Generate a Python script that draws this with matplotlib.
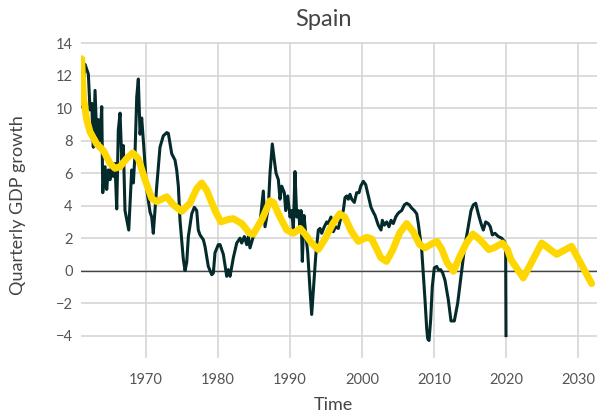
import numpy as np
import matplotlib
matplotlib.use("Agg")
import matplotlib.pyplot as plt

# quarterly GDP growth (dark line)
gdp_time = [1961.07, 1961.53, 1961.99, 1962.22, 1962.46, 1962.68, 1962.92, 1963.15, 1963.37, 1963.61,
            1963.85, 1963.99, 1964.31, 1964.54, 1964.76, 1965.0, 1965.24, 1965.46, 1965.69, 1965.93,
            1966.15, 1966.39, 1966.63, 1966.85, 1967.08, 1967.6, 1968.01, 1968.24, 1968.47, 1968.71,
            1968.93, 1969.17, 1969.4, 1969.63, 1969.86, 1970.1, 1970.56, 1970.79, 1971.01, 1971.49,
            1971.94, 1972.4, 1972.88, 1973.1, 1973.57, 1974.03, 1974.26, 1974.49, 1974.72, 1975.18,
            1975.42, 1975.65, 1975.88, 1976.35, 1976.71, 1977.04, 1977.26, 1977.5, 1977.96, 1978.19,
            1978.65, 1979.13, 1979.35, 1979.58, 1980.04, 1980.28, 1980.74, 1981.21, 1981.43, 1981.67,
            1982.13, 1982.6, 1983.06, 1983.29, 1983.65, 1983.99, 1984.21, 1984.44, 1984.9, 1985.38,
            1985.83, 1986.29, 1986.53, 1986.99, 1987.22, 1987.54, 1987.82, 1988.06, 1988.38, 1988.61,
            1988.85, 1989.21, 1989.4, 1989.68, 1990.0, 1990.24, 1990.46, 1990.69, 1990.93, 1991.15,
            1991.39, 1991.53, 1991.71, 1991.94, 1992.18, 1992.46, 1992.78, 1993.01, 1993.24, 1993.57,
            1993.93, 1994.17, 1994.4, 1994.76, 1995.1, 1995.32, 1995.69, 1996.01, 1996.35, 1996.71,
            1997.08, 1997.4, 1997.64, 1997.88, 1998.1, 1998.33, 1998.57, 1998.93, 1999.26, 1999.58,
            1999.82, 2000.18, 2000.51, 2000.88, 2001.25, 2001.57, 2001.81, 2002.26, 2002.64, 2002.82,
            2003.1, 2003.43, 2003.75, 2004.03, 2004.35, 2004.68, 2004.96, 2005.18, 2005.51, 2005.88,
            2006.21, 2006.57, 2006.9, 2007.26, 2007.6, 2007.82, 2008.06, 2008.29, 2008.51, 2008.75,
            2008.99, 2009.13, 2009.31, 2009.54, 2009.76, 2010.04, 2010.38, 2010.6, 2010.93, 2011.21,
            2011.53, 2011.99, 2012.36, 2012.82, 2013.29, 2013.75, 2014.21, 2014.68, 2015.14, 2015.46,
            2015.79, 2016.15, 2016.53, 2016.85, 2017.18, 2017.54, 2017.82, 2018.1, 2018.47, 2018.93,
            2019.4, 2019.76, 2019.95, 2020.0]
gdp_growth = [10.1, 12.7, 12.1, 9.9, 10.3, 7.6, 11.1, 8.2, 9.3, 8.0,
              10.1, 4.8, 6.4, 5.0, 6.2, 5.6, 6.6, 5.8, 6.6, 3.8,
              8.65, 9.7, 6.8, 7.7, 3.7, 2.5, 6.2, 5.4, 7.2, 10.7,
              11.8, 8.4, 9.4, 8.0, 6.5, 5.0, 3.6, 3.3, 2.3, 5.2,
              7.6, 8.3, 8.5, 8.45, 7.2, 6.8, 6.2, 5.2, 3.1, 0.7,
              0.0, 0.5, 2.1, 3.5, 3.9, 3.7, 2.5, 2.2, 1.9, 1.5,
              0.26, -0.25, -0.15, 1.1, 1.6, 1.6, 1.0, -0.35, 0.06, -0.35,
              0.8, 1.7, 2.0, 1.7, 2.1, 1.6, 2.1, 1.4, 2.1, 2.5,
              2.9, 4.9, 2.7, 3.9, 6.0, 7.8, 6.8, 6.0, 5.6, 4.4,
              5.2, 4.8, 3.7, 4.6, 3.3, 3.7, 2.5, 6.1, 3.3, 3.7,
              2.7, 3.7, 0.57, 3.4, 2.3, 1.1, -1.2, -2.7, -1.2, 0.9,
              2.5, 2.6, 2.3, 2.7, 3.0, 2.9, 3.3, 2.4, 2.7, 2.6,
              3.3, 3.7, 4.5, 4.6, 4.4, 4.7, 4.4, 4.2, 4.8, 4.8,
              5.2, 5.5, 5.3, 4.6, 3.9, 3.6, 3.4, 2.8, 2.5, 3.1,
              2.8, 3.0, 2.7, 3.1, 2.9, 3.3, 3.5, 3.6, 3.7, 4.05,
              4.15, 4.05, 3.85, 3.7, 3.5, 2.9, 2.1, 1.3, -0.15, -1.8,
              -3.6, -4.2, -4.3, -3.0, -1.0, 0.17, 0.26, 0.06, 0.06, -0.15,
              -0.6, -1.8, -3.1, -3.1, -2.0, -0.35, 1.3, 2.5, 3.7, 4.05,
              4.15, 3.5, 2.9, 2.5, 3.0, 2.9, 2.7, 2.2, 2.3, 2.1,
              2.0, 1.8, 1.6, -4.0]

# smoothed / forecast curve (yellow line)
fit_time = [1961.05, 1961.3, 1961.76, 1962.22, 1963.15, 1964.07, 1965.0, 1965.69, 1966.39, 1967.3,
            1968.15, 1968.93, 1969.86, 1970.79, 1971.49, 1972.88, 1973.8, 1974.96, 1976.1, 1977.04,
            1977.73, 1978.43, 1979.58, 1980.4, 1981.4, 1982.13, 1983.29, 1984.4, 1984.9, 1986.15,
            1987.22, 1987.7, 1988.38, 1989.55, 1990.46, 1991.4, 1992.18, 1993.0, 1993.93, 1994.8,
            1995.95, 1996.9, 1997.6, 1998.55, 1999.48, 2000.65, 2001.35, 2002.07, 2002.6, 2003.4,
            2004.3, 2005.2, 2006.2, 2007.1, 2008.0, 2008.75, 2009.9, 2010.4, 2011.1, 2011.8,
            2012.7, 2013.6, 2014.5, 2015.4, 2016.4, 2017.6, 2018.3, 2019.5, 2020.2, 2020.7,
            2022.4, 2024.96, 2027.04, 2029.1, 2031.9]
fit_growth = [13.05, 10.7, 9.3, 8.55, 7.8, 7.4, 6.6, 6.3, 6.4, 6.9,
              7.25, 6.9, 5.6, 4.45, 4.25, 4.55, 4.05, 3.65, 4.15, 5.05,
              5.4, 4.95, 3.7, 3.0, 3.15, 3.2, 2.9, 2.3, 2.25, 3.2,
              4.3, 4.2, 3.5, 2.5, 2.3, 2.6, 2.2, 1.7, 1.3, 1.9,
              2.9, 3.5, 3.3, 2.4, 1.8, 2.05, 1.95, 1.3, 0.8, 0.57,
              1.3, 2.3, 2.9, 2.4, 1.6, 1.4, 1.7, 1.8, 1.3, 0.5,
              -0.04, 0.88, 1.7, 2.25, 1.9, 1.3, 1.4, 1.7, 1.3, 0.67,
              -0.45, 1.7, 1.0, 1.5, -0.8]

xticks = [1970, 1980, 1990, 2000, 2010, 2020, 2030]
yticks = [-4, -2, 0, 2, 4, 6, 8, 10, 12, 14]

plt.rcParams['font.family'] = ['Lato', 'DejaVu Sans']

fig = plt.figure(figsize=(5.97, 4.17), dpi=100)
ax = fig.add_axes([0.1357, 0.1415, 0.8643, 0.7578])

ax.axhline(0, color='#444444', lw=1.0, zorder=2)
ax.plot(gdp_time, gdp_growth, color='#042a2b', lw=2.2, solid_joinstyle='round', zorder=3)
ax.plot(fit_time, fit_growth, color='#ffd700', lw=5.0, solid_joinstyle='round',
        solid_capstyle='round', zorder=4)

ax.set_xlim(1960.97, 2032.64)
ax.set_ylim(-5.38, 14.08)
ax.set_xticks(xticks)
ax.set_yticks(yticks)
ax.set_yticklabels([str(v).replace('-', '\u2212') for v in yticks])
ax.grid(True, color='#d6d6d6', lw=1.2, zorder=0)
ax.set_axisbelow(True)
for s in ax.spines.values():
    s.set_visible(False)
ax.tick_params(length=0, colors='#555555', labelsize=10.5)
ax.tick_params(axis='x', pad=11)
ax.tick_params(axis='y', pad=6)

fig.text(323 / 597, 1 - 20 / 417, 'Spain', ha='center', va='center', fontsize=17, color='#444444')
fig.text(333 / 597, 1 - 405 / 417, 'Time', ha='center', va='center', fontsize=13, color='#444444')
fig.text(18 / 597, 1 - 205 / 417, 'Quarterly GDP growth', ha='center', va='center',
         rotation=90, fontsize=13, color='#444444')

fig.savefig('out.png', dpi=100)
